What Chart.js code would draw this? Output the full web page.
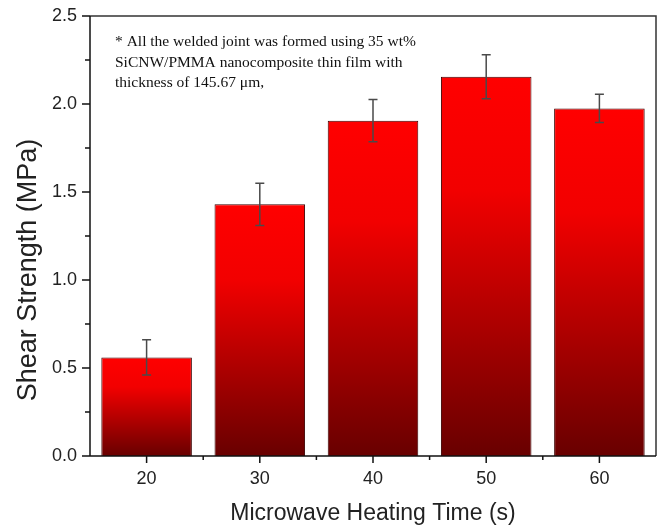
<!DOCTYPE html>
<html>
<head>
<meta charset="utf-8">
<script src="https://cdn.jsdelivr.net/npm/chart.js@4.4.1/dist/chart.umd.min.js"></script>
<style>
  html, body { margin: 0; padding: 0; background: #fff; }
  #wrap { width: 661px; height: 527px; }
</style>
</head>
<body>
<div id="wrap"><canvas id="chart"></canvas></div>
<script>
'use strict';

const times       = ['20', '30', '40', '50', '60'];
const strength    = [0.56, 1.43, 1.905, 2.155, 1.975];
const strengthErr = [0.10, 0.12, 0.12, 0.125, 0.08];
const yMajorTicks = [0, 0.5, 1.0, 1.5, 2.0, 2.5];
const noteLines   = [
  '* All the welded joint was formed using 35 wt%',
  'SiCNW/PMMA nanocomposite thin film with',
  'thickness of 145.67 \u03bcm,'
];
const yTitle = 'Shear Strength (MPa)';

const AXIS_LEFT = 90;
const AXIS_BOTTOM = 456;
const SANS = "Arial, 'Liberation Sans', sans-serif";

function barGradient(c) {
  const chart = c.chart;
  if (!chart.chartArea || c.dataIndex == null) return '#c00000';
  const y = chart.scales.y;
  const top = y.getPixelForValue(strength[c.dataIndex]);
  const bottom = y.getPixelForValue(0);
  const g = chart.ctx.createLinearGradient(0, top, 0, bottom);
  g.addColorStop(0, '#ff0000');
  g.addColorStop(0.3, '#f20000');
  g.addColorStop(1, '#680000');
  return g;
}

// error bars, tick marks, frame, y title and the note
const extras = {
  id: 'extras',
  afterDatasetsDraw(chart) {
    const { ctx, scales: { x, y } } = chart;
    ctx.save();
    ctx.strokeStyle = '#4a4a4a';
    ctx.lineWidth = 1.5;
    strength.forEach((v, i) => {
      const px = x.getPixelForValue(i);
      const hi = y.getPixelForValue(v + strengthErr[i]);
      const lo = y.getPixelForValue(v - strengthErr[i]);
      ctx.beginPath();
      ctx.moveTo(px, hi); ctx.lineTo(px, lo);
      ctx.moveTo(px - 4.5, hi); ctx.lineTo(px + 4.5, hi);
      ctx.moveTo(px - 4.5, lo); ctx.lineTo(px + 4.5, lo);
      ctx.stroke();
    });
    ctx.restore();
  },
  afterDraw(chart) {
    const { ctx, chartArea: a, scales: { x, y } } = chart;
    ctx.save();
    ctx.lineWidth = 1.5;
    ctx.strokeStyle = '#333';
    ctx.beginPath();
    ctx.moveTo(a.left, a.top); ctx.lineTo(a.right, a.top); ctx.lineTo(a.right, a.bottom);
    ctx.stroke();
    ctx.strokeStyle = '#111';
    ctx.beginPath();
    ctx.moveTo(a.left, a.top); ctx.lineTo(a.left, a.bottom); ctx.lineTo(a.right, a.bottom);
    // y ticks, major and minor
    yMajorTicks.forEach((v, i) => {
      const py = y.getPixelForValue(v);
      ctx.moveTo(a.left - 8, py); ctx.lineTo(a.left, py);
      if (i < yMajorTicks.length - 1) {
        const pm = y.getPixelForValue(v + 0.25);
        ctx.moveTo(a.left - 5, pm); ctx.lineTo(a.left, pm);
      }
    });
    // x ticks at categories and between them
    times.forEach((t, i) => {
      const px = x.getPixelForValue(i);
      ctx.moveTo(px, a.bottom); ctx.lineTo(px, a.bottom + 7);
      if (i < times.length - 1) {
        const pm = (px + x.getPixelForValue(i + 1)) / 2;
        ctx.moveTo(pm, a.bottom); ctx.lineTo(pm, a.bottom + 4);
      }
    });
    ctx.stroke();

    // y title sits a bit below the middle of the axis, as in the source figure
    ctx.fillStyle = '#222';
    ctx.font = '27px ' + SANS;
    ctx.textAlign = 'center';
    ctx.textBaseline = 'middle';
    ctx.translate(29, 270);
    ctx.rotate(-Math.PI / 2);
    ctx.fillText(yTitle, 0, 0);
    ctx.setTransform(1, 0, 0, 1, 0, 0);

    ctx.fillStyle = '#111';
    ctx.font = "15.5px 'Liberation Serif', 'Times New Roman', serif";
    ctx.textAlign = 'left';
    ctx.textBaseline = 'alphabetic';
    noteLines.forEach((line, i) => ctx.fillText(line, a.left + 25, a.top + 30 + i * 20.5));
    ctx.restore();
  }
};

new Chart(document.getElementById('chart'), {
  type: 'bar',
  data: {
    labels: times,
    datasets: [{
      data: strength,
      backgroundColor: barGradient,
      borderColor: '#3a0000',
      borderWidth: 1,
      barPercentage: 0.8,
      categoryPercentage: 1.0
    }]
  },
  options: {
    responsive: true,
    maintainAspectRatio: false,
    animation: false,
    layout: { padding: { top: 16, right: 5, left: 0, bottom: 0 } },
    plugins: {
      legend: { display: false },
      tooltip: { enabled: false }
    },
    scales: {
      x: {
        grid: { display: false, drawTicks: false },
        border: { display: false },
        ticks: { color: '#222', font: { family: SANS, size: 18 }, padding: 12 },
        title: {
          display: true,
          text: 'Microwave Heating Time (s)',
          color: '#222',
          font: { family: SANS, size: 23 },
          padding: { top: 4, bottom: 0 }
        },
        afterFit: s => { s.height = 527 - AXIS_BOTTOM; s.paddingLeft = 0; s.paddingRight = 0; }
      },
      y: {
        min: 0,
        max: 2.5,
        grid: { display: false, drawTicks: false },
        border: { display: false },
        ticks: {
          stepSize: 0.5,
          color: '#222',
          font: { family: SANS, size: 18 },
          padding: 13,
          callback: v => Number(v).toFixed(1)
        },
        title: { display: false },
        afterFit: s => { s.width = AXIS_LEFT; s.paddingTop = 0; s.paddingBottom = 0; }
      }
    }
  },
  plugins: [extras]
});
</script>
</body>
</html>
